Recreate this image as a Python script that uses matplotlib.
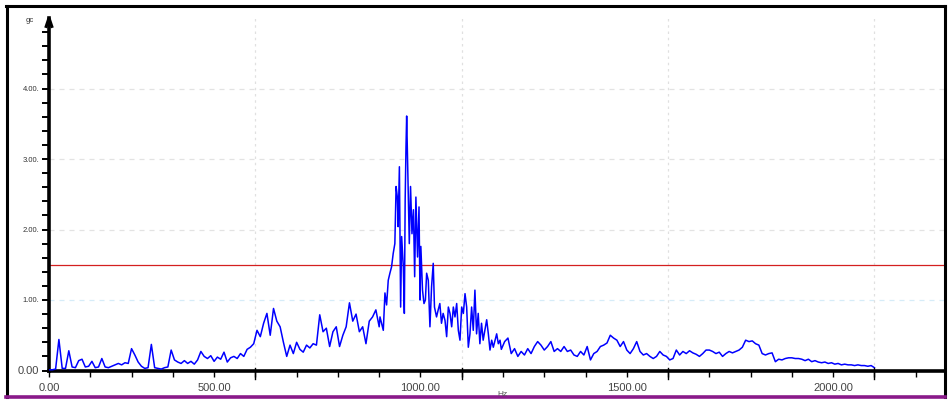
import numpy as np
import matplotlib
matplotlib.use("Agg")
import matplotlib.pyplot as plt
from matplotlib.lines import Line2D

plt.rcParams['font.family'] = ['Liberation Sans', 'DejaVu Sans']

# ---- spectrum data (amplitude vs frequency, Hz) ----
# 100 - 900 Hz, 8 Hz bins
low_start_hz, low_step_hz = 100, 8
amp_low = [0.01, 0.01, 0.02, 0.44, 0.03, 0.03, 0.28, 0.05, 0.04, 0.14,
           0.16, 0.05, 0.06, 0.13, 0.04, 0.05, 0.17, 0.05, 0.04, 0.06,
           0.08, 0.10, 0.08, 0.11, 0.10, 0.31, 0.22, 0.12, 0.06, 0.03,
           0.04, 0.37, 0.04, 0.03, 0.02, 0.04, 0.05, 0.29, 0.15, 0.12,
           0.10, 0.14, 0.10, 0.13, 0.09, 0.15, 0.27, 0.20, 0.17, 0.21,
           0.13, 0.19, 0.16, 0.26, 0.12, 0.18, 0.20, 0.17, 0.24, 0.20,
           0.30, 0.33, 0.38, 0.57, 0.48, 0.67, 0.81, 0.50, 0.88, 0.70,
           0.62, 0.40, 0.20, 0.36, 0.24, 0.40, 0.30, 0.26, 0.36, 0.32,
           0.38, 0.36, 0.79, 0.55, 0.60, 0.34, 0.55, 0.62, 0.34, 0.50,
           0.62, 0.96, 0.70, 0.80, 0.55, 0.62, 0.38, 0.70, 0.76, 0.86,
           0.62]

# resonance region, finer resolution
peak_hz = [902, 910, 914, 918, 922, 926, 930, 934, 938, 941, 944, 946, 949,
           952, 954.5, 958.5, 961, 963, 965, 966.6, 970, 973, 976, 979.5,
           983, 986, 989, 993, 996.5, 999, 1001, 1005, 1008.6, 1012, 1015,
           1019, 1023, 1027, 1031, 1034, 1039, 1043, 1047, 1051, 1055,
           1059.5, 1063.5, 1067.6, 1071.6, 1075.7, 1079.7, 1083.7, 1087.8,
           1091.8, 1095.8, 1099.9, 1104, 1108, 1112, 1116, 1120, 1124, 1128,
           1132, 1136, 1140, 1144, 1148, 1152, 1160.5, 1164.5, 1168.5,
           1172.6, 1176.6, 1184.7, 1188.7, 1192.8]
peak_amp = [0.76, 0.57, 1.10, 0.93, 1.28, 1.38, 1.47, 1.66, 1.80, 2.61, 2.46,
            2.04, 2.89, 0.90, 1.90, 1.47, 0.81, 2.42, 3.17, 3.61, 2.66, 1.80,
            2.61, 1.94, 2.28, 1.33, 2.46, 1.61, 2.32, 1.00, 1.76, 1.14, 0.95,
            1.00, 1.38, 1.28, 0.62, 1.19, 1.52, 0.90, 0.76, 0.86, 0.95, 0.67,
            0.81, 0.71, 0.48, 0.90, 0.81, 0.62, 0.90, 0.76, 0.95, 0.57, 0.43,
            0.90, 0.81, 1.09, 0.90, 0.33, 0.52, 0.90, 0.57, 1.14, 0.52, 0.81,
            0.38, 0.67, 0.43, 0.72, 0.52, 0.29, 0.43, 0.33, 0.52, 0.38, 0.43]

# 1196 - 2100 Hz, 8 Hz bins
high_start_hz, high_step_hz = 1196, 8
amp_high = [0.30, 0.41, 0.46, 0.24, 0.31, 0.20, 0.27, 0.22, 0.31, 0.24,
            0.34, 0.41, 0.36, 0.29, 0.34, 0.41, 0.27, 0.31, 0.27, 0.34,
            0.27, 0.29, 0.22, 0.20, 0.27, 0.22, 0.34, 0.15, 0.24, 0.27,
            0.34, 0.36, 0.39, 0.50, 0.46, 0.43, 0.34, 0.41, 0.29, 0.24,
            0.31, 0.41, 0.27, 0.22, 0.24, 0.20, 0.17, 0.20, 0.27, 0.22,
            0.20, 0.15, 0.17, 0.29, 0.22, 0.27, 0.24, 0.28, 0.25, 0.23,
            0.20, 0.24, 0.29, 0.29, 0.27, 0.24, 0.26, 0.20, 0.24, 0.27,
            0.25, 0.27, 0.29, 0.33, 0.43, 0.41, 0.42, 0.38, 0.36, 0.24,
            0.22, 0.24, 0.25, 0.125, 0.16, 0.15, 0.17, 0.18, 0.18, 0.17,
            0.17, 0.16, 0.14, 0.16, 0.125, 0.14, 0.12, 0.11, 0.12, 0.10,
            0.11, 0.09, 0.10, 0.08, 0.09, 0.08, 0.08, 0.07, 0.08, 0.07,
            0.07, 0.06, 0.07, 0.04]

alarm_level = 1.5

y_ticks = [0, 1, 2, 3, 4]
y_tick_labels = ["0.00", "1.00.", "2.00.", "3.00.", "4.00."]
x_ticks = [100, 500, 1000, 1500, 2000]
x_tick_labels = ["0.00", "500.00", "1000.00", "1500.00", "2000.00"]
x_grid = [600, 1100, 1600, 2100]

freq_low = low_start_hz + low_step_hz * np.arange(len(amp_low))
freq_high = high_start_hz + high_step_hz * np.arange(len(amp_high))
freq = np.concatenate([freq_low, peak_hz, freq_high])
amp = np.concatenate([amp_low, peak_amp, amp_high])

# ---- figure ----
W, H = 949, 401
fig = plt.figure(figsize=(W / 100, H / 100), dpi=100)
fig.patch.set_facecolor("white")

left_px, right_px, axis_px, top_px = 49, 945, 370.5, 18
ax = fig.add_axes([left_px / W, (H - axis_px) / H,
                   (right_px - left_px) / W, (axis_px - top_px) / H])
ax.set_xlim(100, 2271)
ax.set_ylim(0, 5)

# grid
for v in (2, 3, 4):
    ax.axhline(v, color="#e3e3e3", lw=0.9, ls=(0, (4, 4)), zorder=1)
ax.axhline(1, color="#d6ecf8", lw=0.9, ls=(0, (4, 4)), zorder=1)
for xv in x_grid:
    ax.axvline(xv, color="#e0e0e0", lw=0.9, ls=(0, (2, 3)), zorder=1)

# alarm level
ax.axhline(alarm_level, color="#d42020", lw=0.9, zorder=2)

# spectrum
ax.plot(freq, amp, color="#0000ff", lw=1.1, zorder=3)

# axes styling
for s in ("top", "right"):
    ax.spines[s].set_visible(False)
ax.spines["left"].set_linewidth(2.6)
ax.spines["bottom"].set_linewidth(2.6)

ax.set_yticks(y_ticks)
ax.set_yticklabels(y_tick_labels)
ax.set_yticks(np.arange(0, 5.0, 0.2), minor=True)
ax.set_xticks(x_ticks)
ax.set_xticklabels(x_tick_labels)
ax.set_xticks(np.arange(100, 2271, 100), minor=True)

ax.tick_params(axis="y", which="both", direction="out", length=5, width=1.4,
               pad=2, labelsize=5.5, labelcolor="#333333")
ax.tick_params(axis="x", which="both", direction="out", length=4, width=1.0,
               pad=5, labelsize=8, labelcolor="#444444")
ax.get_yticklabels()[0].set_fontsize(8)
ax.get_yticklabels()[0].set_color("#444444")

# longer ticks at grid positions
for xv in x_grid:
    ax.plot([xv, xv], [-0.12, 0.04], color="black", lw=1.0,
            clip_on=False, zorder=5)

# arrow head on y-axis
ax.plot([92, 100, 108], [4.86, 5.0, 4.86], color="black", lw=2.2,
        clip_on=False, solid_capstyle="butt", solid_joinstyle="miter",
        zorder=6)

# unit labels
fig.text(30 / W, 1 - 21 / H, "gc", fontsize=5.5, color="#333333",
         ha="center", va="center")
fig.text(502 / W, 1 - 394 / H, "Hz", fontsize=6, color="#555555",
         ha="center", va="center")

# outer frame
fig.add_artist(Line2D([6 / W, 945 / W], [1 - 6 / H, 1 - 6 / H],
                      transform=fig.transFigure, color="black", lw=2.2))
fig.add_artist(Line2D([7 / W, 7 / W], [1 - 6 / H, 1 - 397 / H],
                      transform=fig.transFigure, color="black", lw=2.2))
fig.add_artist(Line2D([945 / W, 945 / W], [1 - 6 / H, 1 - 397 / H],
                      transform=fig.transFigure, color="black", lw=2.2))
fig.add_artist(Line2D([6 / W, 945 / W], [1 - 397 / H, 1 - 397 / H],
                      transform=fig.transFigure, color="#8a1a8a", lw=2.6))

fig.savefig("out.png", dpi=100)
